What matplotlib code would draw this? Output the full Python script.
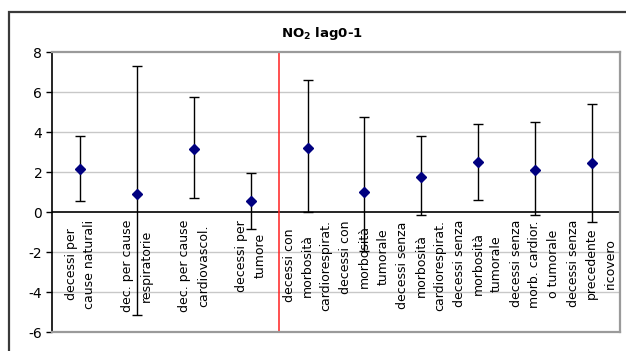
import matplotlib
matplotlib.use("Agg")
import matplotlib.pyplot as plt
from matplotlib.patches import Rectangle
import numpy as np

# Relative risk estimates (% increase) with 95% confidence limits
categories = [
    "decessi per\ncause naturali",
    "dec. per cause\nrespiratorie",
    "dec. per cause\ncardiovascol.",
    "decessi per\ntumore",
    "decessi con\nmorbosità\ncardiorespirat.",
    "decessi con\nmorbosità\ntumorale",
    "decessi senza\nmorbosità\ncardiorespirat.",
    "decessi senza\nmorbosità\ntumorale",
    "decessi senza\nmorb. cardior.\no tumorale",
    "decessi senza\nprecedente\nricovero",
]
estimate = [2.15, 0.88, 3.13, 0.55, 3.2, 1.0, 1.77, 2.5, 2.1, 2.43]
upper = [3.8, 7.3, 5.73, 1.97, 6.58, 4.77, 3.8, 4.38, 4.5, 5.42]
lower = [0.55, -5.15, 0.68, -0.87, -0.02, -1.95, -0.15, 0.62, -0.15, -0.48]
y_ticks = [-6, -4, -2, 0, 2, 4, 6, 8]
title = "NO$_\\mathbf{2}$ lag0-1"

W, H = 626, 351
fig = plt.figure(figsize=(W / 100, H / 100), dpi=100)
fig.patch.set_facecolor("white")

# outer chart frame
fig.add_artist(Rectangle((9 / W, -0.2), 1.5, (H - 12) / H + 0.2,
                         transform=fig.transFigure, fill=False,
                         ec="#3a3a3a", lw=1.6))

ax = fig.add_axes([52 / W, (H - 332) / H, (620 - 52) / W, (332 - 52) / H])
x = np.arange(len(categories))
est = np.array(estimate)
yerr = np.vstack([est - np.array(lower), np.array(upper) - est])

ax.set_xlim(-0.5, len(categories) - 0.5)
ax.set_ylim(-6, 8)
ax.set_yticks(y_ticks)
ax.set_yticklabels([str(v) for v in y_ticks], fontsize=10)
ax.set_xticks([])

for v in y_ticks:
    if v not in (0, 8, -6):
        ax.axhline(v, color="#c8c8c8", lw=1, zorder=0)
ax.axhline(0, color="black", lw=1.2, zorder=1)
ax.axvline(3.5, color="#ff2020", lw=1.1, zorder=1)

ax.errorbar(x, est, yerr=yerr, fmt="none", ecolor="black", elinewidth=1,
            capsize=3.8, capthick=1, zorder=2)
ax.plot(x, est, linestyle="none", marker="D", markersize=5.5,
        color="#000080", zorder=3)

for s in ("top", "right", "bottom"):
    ax.spines[s].set_color("#9a9a9a")
    ax.spines[s].set_linewidth(1.6)
ax.spines["left"].set_color("black")
ax.spines["left"].set_linewidth(1.2)
ax.tick_params(axis="y", direction="out", length=4, width=1, pad=3,
               color="black")

for xi, lab in zip(x, categories):
    ax.text(xi, -0.4, lab, rotation=90, ha="center", va="top",
            multialignment="center", fontsize=9, linespacing=1.55,
            zorder=4)

fig.text(322 / W, 1 - 33 / H, title, ha="center", va="center",
         fontsize=9.5, fontweight="bold")

fig.savefig("out.png", dpi=100)
